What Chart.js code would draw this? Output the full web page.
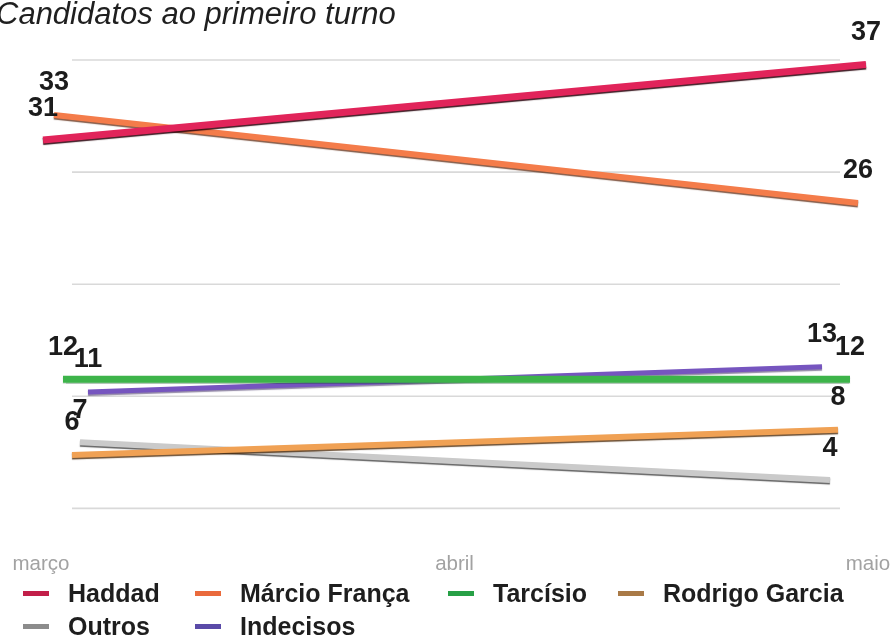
<!DOCTYPE html>
<html><head><meta charset="utf-8">
<script src="https://cdn.jsdelivr.net/npm/chart.js@4"></script>
<style>html,body{margin:0;padding:0;background:#fff;overflow:hidden}</style>
</head><body>
<canvas id="c" width="893" height="639"></canvas>
<script>
// ---- data ----
const months = ['março', 'abril', 'maio'];
const seriesNames = ['Haddad', 'Márcio França', 'Tarcísio', 'Rodrigo Garcia', 'Outros', 'Indecisos'];
const haddad = [31, null, 37];
const marcioFranca = [33, null, 26];
const tarcisio = [12, null, 12];
const rodrigoGarcia = [6, null, 8];
const outros = [7, null, 4];
const indecisos = [11, null, 13];
const seriesValues = [haddad, marcioFranca, tarcisio, rodrigoGarcia, outros, indecisos];
const titleText = 'Candidatos ao primeiro turno';

// ---- styles ----
const FONT = '"Liberation Sans", Arial, Helvetica, sans-serif';
const lineColors = ['#e1245a', '#f47c4a', '#3db44a', '#f0a154', '#cacaca', '#7655bf'];
const legendColors = ['#c21f49', '#ea6a3c', '#27a046', '#a97a47', '#8c8c8c', '#5a4aa8'];
const lineWidths = [7, 6, 7, 6, 6, 5];
const edgeShadows = ['rgba(40,0,10,0.9)', 'rgba(90,35,10,0.75)', 'rgba(0,70,20,0.3)',
                     'rgba(70,35,0,0.8)', 'rgba(60,60,60,0.8)', 'rgba(40,20,80,0.5)'];
const endInsets = [[2, 2], [13, 10], [22, 18], [31, 30], [39, 38], [47, 46]];
const legendColumns = [23, 195, 448, 618];
const legendRows = [594, 627];

const insetPlugin = {
  id: 'insets',
  afterDatasetsUpdate(chart) {
    chart.data.datasets.forEach((ds, i) => {
      const meta = chart.getDatasetMeta(i);
      const idx = ds.data.map((v, j) => v == null ? -1 : j).filter(j => j >= 0);
      const first = meta.data[idx[0]], last = meta.data[idx[idx.length - 1]];
      first.x += endInsets[i][0];
      last.x -= endInsets[i][1];
    });
  }
};

const gridPlugin = {
  id: 'customGrid',
  beforeDatasetsDraw(chart) {
    const {ctx, chartArea} = chart;
    const ys = chart.scales.y;
    ctx.save();
    ctx.strokeStyle = '#d9d9d9';
    ctx.lineWidth = 1.6;
    ys.ticks.forEach(t => {
      const y = ys.getPixelForValue(t.value);
      ctx.beginPath();
      ctx.moveTo(chartArea.left + 31, y);
      ctx.lineTo(chartArea.right - 28, y);
      ctx.stroke();
    });
    ctx.restore();
  }
};

const shadowPlugin = {
  id: 'edgeShadow',
  beforeDatasetDraw(chart, args) {
    const ctx = chart.ctx;
    ctx.save();
    ctx.shadowColor = edgeShadows[args.index];
    ctx.shadowOffsetY = 1.5;
    ctx.shadowOffsetX = 0;
    ctx.shadowBlur = 1;
  },
  afterDatasetDraw(chart) {
    chart.ctx.restore();
  }
};

const labelPlugin = {
  id: 'endLabels',
  afterDatasetsDraw(chart) {
    const ctx = chart.ctx;
    ctx.save();
    ctx.font = 'bold 27px ' + FONT;
    ctx.fillStyle = '#1c1c1c';
    ctx.textAlign = 'center';
    ctx.textBaseline = 'middle';
    chart.data.datasets.forEach((ds, i) => {
      const meta = chart.getDatasetMeta(i);
      ds.data.forEach((v, j) => {
        if (v == null) return;
        const p = meta.data[j];
        ctx.fillText(String(v), p.x, p.y - 32);
      });
    });
    ctx.restore();
  }
};

const legendPlugin = {
  id: 'gridLegend',
  afterDraw(chart) {
    const ctx = chart.ctx;
    ctx.save();
    ctx.font = 'bold 25px ' + FONT;
    ctx.textBaseline = 'middle';
    ctx.textAlign = 'left';
    chart.data.datasets.forEach((ds, i) => {
      const x = legendColumns[i % 4];
      const y = legendRows[Math.floor(i / 4)];
      ctx.fillStyle = legendColors[i];
      ctx.fillRect(x, y - 3, 26, 5);
      ctx.fillStyle = '#1e1e1e';
      ctx.fillText(ds.label, x + 45, y + 1);
    });
    ctx.restore();
  }
};

new Chart(document.getElementById('c'), {
  type: 'line',
  data: {
    labels: months,
    datasets: seriesNames.map((name, i) => ({
      label: name,
      data: seriesValues[i],
      borderColor: lineColors[i],
      backgroundColor: lineColors[i],
      borderWidth: lineWidths[i],
      borderCapStyle: 'butt',
      pointRadius: 0,
      pointHoverRadius: 0,
      tension: 0,
      spanGaps: true,
      clip: false
    }))
  },
  options: {
    responsive: false,
    animation: false,
    events: [],
    layout: { padding: { top: 0, left: -4, right: 25, bottom: 62 } },
    plugins: {
      legend: { display: false },
      tooltip: { enabled: false },
      title: {
        display: true,
        text: titleText,
        align: 'start',
        color: '#1f1f1f',
        font: { family: FONT, size: 31, style: 'italic', weight: 'normal', lineHeight: 1 },
        padding: { top: 0, bottom: 29 }
      }
    },
    scales: {
      x: {
        type: 'category',
        offset: false,
        grid: { display: true, drawOnChartArea: false, drawTicks: true, tickLength: 44, color: 'rgba(0,0,0,0)' },
        border: { display: false },
        ticks: { color: '#a2a2a2', font: { family: FONT, size: 20.5 }, padding: 0, maxRotation: 0, autoSkip: false }
      },
      y: {
        min: 1.75,
        max: 37.36,
        grid: { display: false, drawTicks: false },
        border: { display: false },
        ticks: { display: false, count: 5 },
        afterFit(s) { s.width = 45; }
      }
    }
  },
  plugins: [insetPlugin, gridPlugin, shadowPlugin, labelPlugin, legendPlugin]
});
</script>
</body></html>
